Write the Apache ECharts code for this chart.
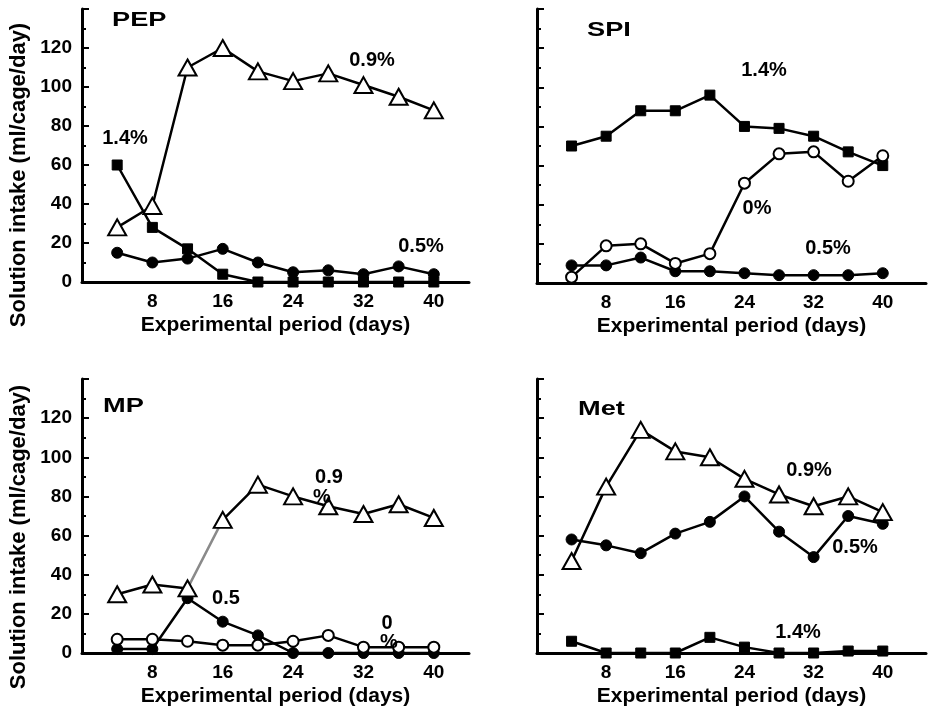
<!DOCTYPE html>
<html>
<head>
<meta charset="utf-8">
<script src="https://cdn.jsdelivr.net/npm/echarts@6/dist/echarts.min.js"></script>
<style>
html,body{margin:0;padding:0;background:#fff;}
#c{width:929px;height:710px;}
</style>
</head>
<body>
<div id="c"></div>
<script>
// ---- data ----
var days = [4, 8, 12, 16, 20, 24, 28, 32, 36, 40];
var xTicks = [8, 16, 24, 32, 40];
var yTicks = [0, 20, 40, 60, 80, 100, 120];

var pep09 = [28, 39, 110, 120, 108, 103, 107, 101, 95, 88];
var pep14 = [60, 28, 17, 4, 0, 0, 0, 0, 0, 0];
var pep05 = [15, 10, 12, 17, 10, 5, 6, 4, 8, 4];

var spi14 = [70, 75, 88, 88, 96, 80, 79, 75, 67, 60];
var spi0  = [3, 19, 20, 10, 15, 51, 66, 67, 52, 65];
var spi05 = [9, 9, 13, 6, 6, 5, 4, 4, 4, 5];

var mp09 = [30, 35, 33, 68, 86, 80, 75, 71, 76, 69];
var mp05 = [2, 2, 28, 16, 9, 0, 0, 0, 0, 0];
var mp0  = [7, 7, 6, 4, 4, 6, 9, 3, 3, 3];

var met09 = [47, 85, 114, 103, 100, 89, 81, 75, 80, 72];
var met05 = [58, 55, 51, 61, 67, 80, 62, 49, 70, 66];
var met14 = [6, 0, 0, 0, 8, 3, 0, 0, 1, 1];

var yTitle = 'Solution intake (ml/cage/day)';
var xTitle = 'Experimental period (days)';

// ---- chart ----
var FONT = '"Liberation Sans", Arial, Helvetica, sans-serif';
var chart = echarts.init(document.getElementById('c'), null, {renderer: 'canvas'});

var grids = [
  {left: 82, top: 9, width: 387, height: 273},
  {left: 537, top: 9, width: 392, height: 274},
  {left: 82, top: 379, width: 387, height: 274},
  {left: 537, top: 379, width: 392, height: 274}
];
var xMax = [44, 45, 44, 45];

function pairs(vals) { return days.map(function (d, i) { return [d, vals[i]]; }); }

var xAxes = grids.map(function (g, i) {
  return {
    type: 'value', gridIndex: i, min: 0, max: xMax[i], interval: 8,
    name: xTitle, nameLocation: 'middle', nameGap: 33,
    nameTextStyle: {fontFamily: FONT, fontWeight: 'bold', fontSize: 21, color: '#000'},
    axisLine: {show: true, onZero: false, lineStyle: {color: '#000', width: 3}},
    axisTick: {show: false},
    splitLine: {show: false},
    axisLabel: {
      fontFamily: FONT, fontWeight: 'bold', fontSize: 19, color: '#000', margin: 10,
      formatter: function (v) { return xTicks.indexOf(v) >= 0 ? String(v) : ''; }
    }
  };
});

var yAxes = grids.map(function (g, i) {
  return {
    type: 'value', gridIndex: i, min: 0, max: 140, interval: 20,
    axisLine: {show: true, lineStyle: {color: '#000', width: 3}},
    axisTick: {show: true, inside: true, length: 7, lineStyle: {color: '#000', width: 2}},
    minorTick: {show: true, splitNumber: 2, length: 4, lineStyle: {color: '#000', width: 2}},
    splitLine: {show: false},
    axisLabel: {
      show: i % 2 === 0,
      fontFamily: FONT, fontWeight: 'bold', fontSize: 19, color: '#000', margin: 10,
      formatter: function (v) { return yTicks.indexOf(v) >= 0 ? String(v) : ''; }
    }
  };
});

var styles = {
  tri: {symbol: 'triangle', symbolSize: [18, 16], itemStyle: {color: '#fff', borderColor: '#000', borderWidth: 2}},
  sq: {symbol: 'rect', symbolSize: 10, itemStyle: {color: '#000', borderColor: '#000', borderWidth: 1}},
  dot: {symbol: 'circle', symbolSize: 11, itemStyle: {color: '#000', borderColor: '#000', borderWidth: 1}},
  ring: {symbol: 'circle', symbolSize: 11, itemStyle: {color: '#fff', borderColor: '#000', borderWidth: 2}}
};

function mk(name, vals, gi, kind, lineColor) {
  var s = styles[kind];
  return {
    name: name, type: 'line', xAxisIndex: gi, yAxisIndex: gi,
    data: pairs(vals), symbol: s.symbol, symbolSize: s.symbolSize, showSymbol: true,
    itemStyle: s.itemStyle,
    lineStyle: {color: lineColor || '#000', width: 2.5},
    emphasis: {disabled: true}, silent: true, animation: false
  };
}

// MP 0.9% line has a lighter segment between day 12 and day 16
var mpGrad = new echarts.graphic.LinearGradient(0, 0, 1, 0, [
  {offset: 0, color: '#000'}, {offset: 0.222, color: '#000'},
  {offset: 0.223, color: '#8a8a8a'}, {offset: 0.333, color: '#8a8a8a'},
  {offset: 0.334, color: '#000'}, {offset: 1, color: '#000'}
]);

var series = [
  mk('PEP 1.4%', pep14, 0, 'sq'),
  mk('PEP 0.5%', pep05, 0, 'dot'),
  mk('PEP 0.9%', pep09, 0, 'tri'),
  mk('SPI 0.5%', spi05, 1, 'dot'),
  mk('SPI 1.4%', spi14, 1, 'sq'),
  mk('SPI 0%', spi0, 1, 'ring'),
  mk('MP 0.5%', mp05, 2, 'dot'),
  mk('MP 0%', mp0, 2, 'ring'),
  mk('MP 0.9%', mp09, 2, 'tri', mpGrad),
  mk('Met 1.4%', met14, 3, 'sq'),
  mk('Met 0.5%', met05, 3, 'dot'),
  mk('Met 0.9%', met09, 3, 'tri')
];

function txt(t, x, y, size, align, sx) {
  return {
    type: 'text', x: x, y: y, z: 100, silent: true, scaleX: sx || 1,
    style: {
      text: t, fill: '#000', font: 'bold ' + size + 'px ' + FONT,
      textAlign: align || 'center', textVerticalAlign: 'middle',
      align: align || 'center', verticalAlign: 'middle'
    }
  };
}

var graphics = [
  txt('PEP', 112, 20, 20, 'left', 1.36),
  txt('1.4%', 125, 138, 20),
  txt('0.9%', 372, 60, 20),
  txt('0.5%', 421, 246, 20),
  txt('SPI', 587, 30, 20, 'left', 1.36),
  txt('1.4%', 764, 70, 20),
  txt('0%', 757, 208, 20),
  txt('0.5%', 828, 248, 20),
  txt('MP', 103, 406, 20, 'left', 1.36),
  txt('0.9', 329, 477, 20),
  txt('%', 322, 497, 20),
  txt('0.5', 226, 598, 20),
  txt('0', 387, 623, 20),
  txt('%', 389, 642, 20),
  txt('Met', 578, 409, 20, 'left', 1.36),
  txt('0.9%', 809, 470, 20),
  txt('0.5%', 855, 547, 20),
  txt('1.4%', 798, 632, 20)
];
var yt1 = txt(yTitle, 19, 175, 22); yt1.rotation = Math.PI / 2;
var yt2 = txt(yTitle, 19, 537, 22); yt2.rotation = Math.PI / 2;
graphics.push(yt1, yt2);

chart.setOption({
  backgroundColor: '#fff',
  animation: false,
  grid: grids,
  xAxis: xAxes,
  yAxis: yAxes,
  series: series,
  graphic: graphics
});
</script>
</body>
</html>
